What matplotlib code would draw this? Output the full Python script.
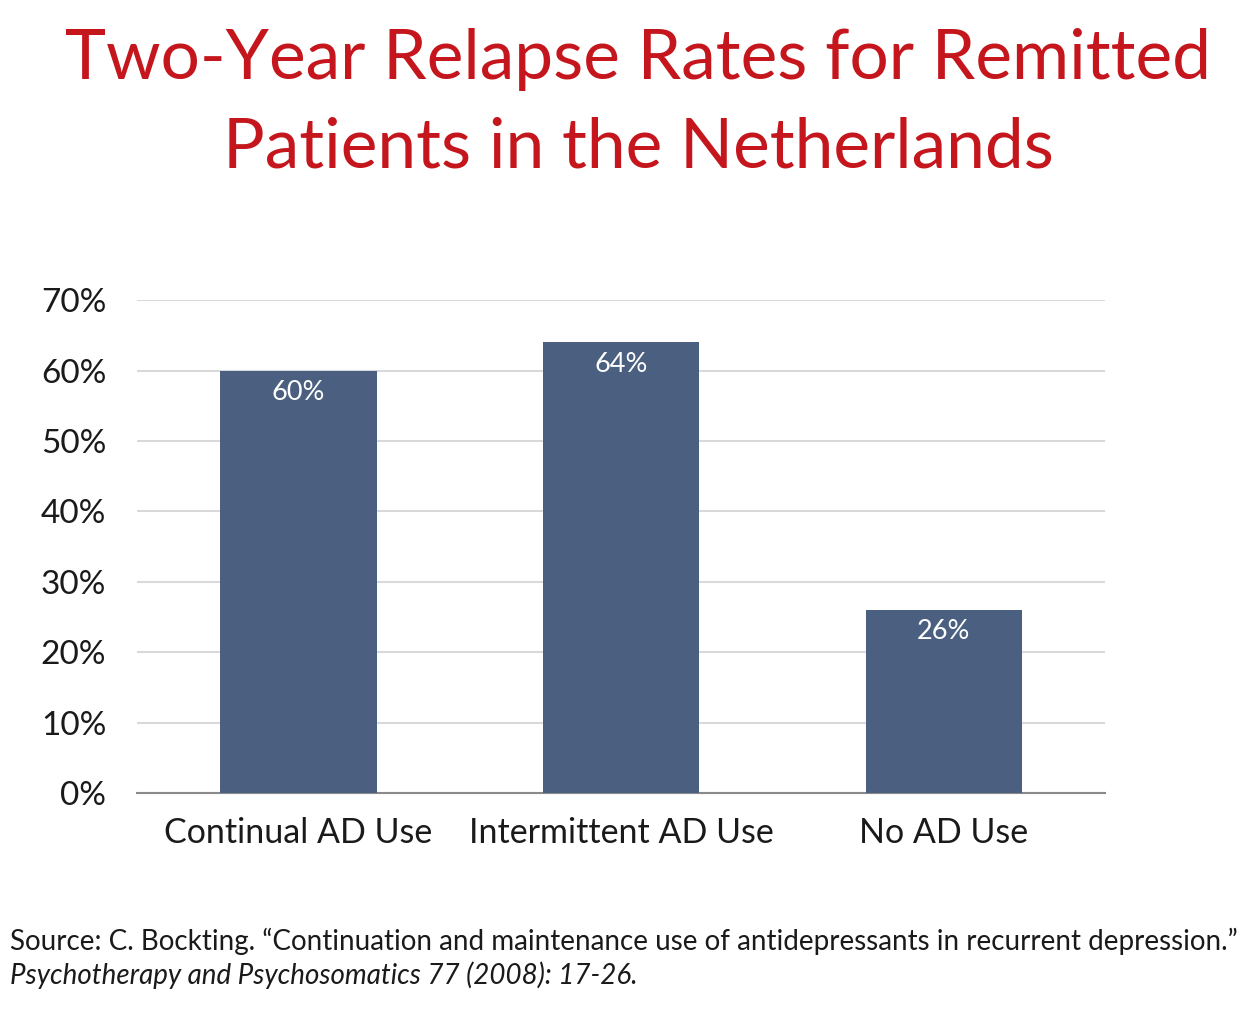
import matplotlib.pyplot as plt
import numpy as np

plt.rcParams['font.family'] = ['Lato', 'DejaVu Sans']

categories = ['Continual AD Use', 'Intermittent AD Use', 'No AD Use']
relapse_rates = [60, 64, 26]
y_ticks = [0, 10, 20, 30, 40, 50, 60, 70]

title = 'Two-Year Relapse Rates for Remitted\nPatients in the Netherlands'
source_line1 = 'Source: C. Bockting. \u201cContinuation and maintenance use of antidepressants in recurrent depression.\u201d'
source_line2 = 'Psychotherapy and Psychosomatics 77 (2008): 17-26.'

bar_color = '#4b5f80'
title_color = '#c4161c'

fig = plt.figure(figsize=(12.56, 10.16), dpi=100)
ax = fig.add_axes([0.109, 0.2195, 0.771, 0.485])

x = np.arange(len(categories))
bars = ax.bar(x, relapse_rates, width=0.485, color=bar_color, zorder=3)

for b, v in zip(bars, relapse_rates):
    ax.text(b.get_x() + b.get_width() / 2, v - 1.3, f'{v}%', ha='center', va='top',
            color='white', fontsize=19.5, zorder=4)

ax.set_xlim(-0.5, 2.5)
ax.set_ylim(0, 70)
ax.set_yticks(y_ticks)
ax.set_yticklabels([f'{t}%' for t in y_ticks], fontsize=24)
ax.set_xticks(x)
ax.set_xticklabels(categories, fontsize=24.5)
ax.tick_params(axis='both', length=0, colors='#1a1a1a')
ax.tick_params(axis='y', pad=22)
ax.tick_params(axis='x', pad=17)

ax.yaxis.grid(True, color='#d9d9dc', linewidth=1.5, zorder=0)
for s in ['top', 'right', 'left']:
    ax.spines[s].set_visible(False)
ax.spines['bottom'].set_color('#8a8a8a')
ax.spines['bottom'].set_linewidth(1.5)

fig.text(0.508, 0.972, title, ha='center', va='top', color=title_color,
         fontsize=50, linespacing=1.5)

fig.text(0.008, 0.073, source_line1, ha='left', va='center', fontsize=20, color='#1a1a1a')
fig.text(0.008, 0.040, source_line2, ha='left', va='center', fontsize=20,
         style='italic', color='#1a1a1a')

fig.savefig('out.png', dpi=100)
